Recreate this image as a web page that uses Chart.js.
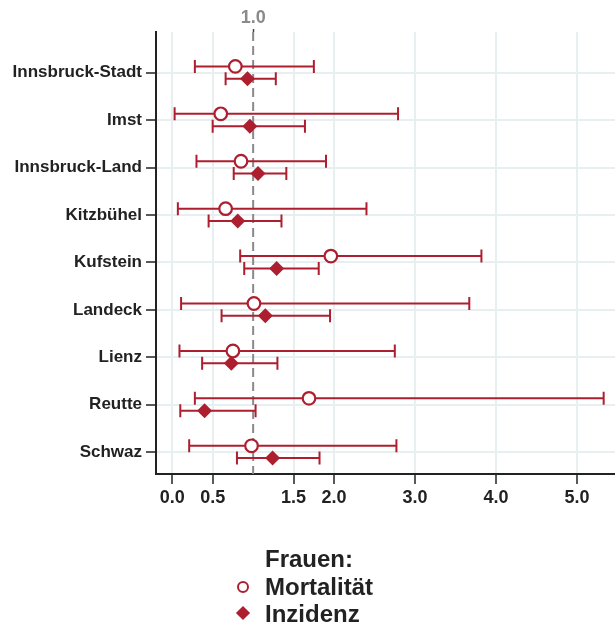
<!DOCTYPE html>
<html>
<head>
<meta charset="utf-8">
<script src="https://cdn.jsdelivr.net/npm/chart.js@4.4.1/dist/chart.umd.min.js"></script>
<style>
  body { margin: 0; background: #fff; }
  #wrap { position: relative; width: 615px; height: 627px; }
  #legend { position: absolute; left: 0; top: 0; width: 615px; height: 627px; pointer-events: none;
    font-family: "Liberation Sans", Arial, sans-serif; font-weight: bold; font-size: 24px; color: #222; }
  #legend .txt { position: absolute; left: 265px; line-height: 27px; white-space: nowrap; }
  #legend .circ { position: absolute; width: 8px; height: 8px; border: 2.5px solid #ad1f2f; border-radius: 50%; }
  #legend .diam { position: absolute; width: 10px; height: 10px; background: #ad1f2f; transform: rotate(45deg); }
</style>
</head>
<body>
<div id="wrap">
  <canvas id="chart" width="615" height="627"></canvas>
  <div id="legend"></div>
</div>
<script>
const categories = ["Innsbruck-Stadt", "Imst", "Innsbruck-Land", "Kitzbühel", "Kufstein", "Landeck", "Lienz", "Reutte", "Schwaz"];

// Mortalität (hollow circles)
const mortValue = [0.78, 0.60, 0.85, 0.66, 1.96, 1.01, 0.75, 1.69, 0.98];
const mortLow   = [0.28, 0.03, 0.30, 0.07, 0.84, 0.11, 0.09, 0.28, 0.21];
const mortHigh  = [1.75, 2.79, 1.90, 2.40, 3.82, 3.67, 2.75, 5.33, 2.77];

// Inzidenz (filled diamonds)
const incValue = [0.93, 0.96, 1.06, 0.81, 1.29, 1.15, 0.73, 0.40, 1.24];
const incLow   = [0.66, 0.50, 0.76, 0.45, 0.89, 0.61, 0.37, 0.10, 0.80];
const incHigh  = [1.28, 1.64, 1.41, 1.35, 1.81, 1.95, 1.30, 1.03, 1.82];

const xTicks = [0, 0.5, 1.5, 2, 3, 4, 5];
const refLine = 1.0;
const legendTitle = "Frauen:";
const seriesLabels = ["Mortalität", "Inzidenz"];

const red = "#ad1f2f";
const gridColor = "#e8eff1";
const axisColor = "#222";
const fontFamily = "'Liberation Sans', Arial, sans-serif";

const mortOffset = -0.135;
const incOffset = 0.125;

const series = [
  { value: mortValue, low: mortLow, high: mortHigh, offset: mortOffset },
  { value: incValue, low: incLow, high: incHigh, offset: incOffset },
];

// reference line + error bars, drawn under the markers
const errorBars = {
  id: "errorBars",
  beforeDatasetsDraw(chart) {
    const { ctx, chartArea, scales } = chart;
    const x = scales.x, y = scales.y;
    ctx.save();

    const rx = x.getPixelForValue(refLine);
    ctx.strokeStyle = "#8a8a8a";
    ctx.lineWidth = 2;
    ctx.setLineDash([9, 5]);
    ctx.beginPath();
    ctx.moveTo(rx, chartArea.top);
    ctx.lineTo(rx, chartArea.bottom);
    ctx.stroke();
    ctx.setLineDash([]);

    ctx.strokeStyle = red;
    ctx.lineWidth = 2;
    series.forEach((s) => {
      categories.forEach((c, i) => {
        const py = y.getPixelForValue(i + 1 + s.offset);
        const x1 = x.getPixelForValue(s.low[i]);
        const x2 = x.getPixelForValue(s.high[i]);
        ctx.beginPath();
        ctx.moveTo(x1, py);
        ctx.lineTo(x2, py);
        ctx.moveTo(x1, py - 6.5);
        ctx.lineTo(x1, py + 6.5);
        ctx.moveTo(x2, py - 6.5);
        ctx.lineTo(x2, py + 6.5);
        ctx.stroke();
      });
    });
    ctx.restore();
  },
};

new Chart(document.getElementById("chart").getContext("2d"), {
  type: "scatter",
  data: {
    datasets: [
      {
        label: seriesLabels[0],
        data: mortValue.map((v, i) => ({ x: v, y: i + 1 + mortOffset })),
        pointStyle: "circle",
        pointRadius: 6.3,
        pointBorderWidth: 2.2,
        pointBackgroundColor: "#fff",
        pointBorderColor: red,
      },
      {
        label: seriesLabels[1],
        data: incValue.map((v, i) => ({ x: v, y: i + 1 + incOffset })),
        pointStyle: "rectRot",
        pointRadius: 7.5,
        pointBorderWidth: 0,
        pointBackgroundColor: red,
        pointBorderColor: red,
      },
    ],
  },
  options: {
    responsive: false,
    animation: false,
    layout: { autoPadding: false, padding: { left: 0, right: 0, top: 0, bottom: 113 } },
    plugins: { legend: { display: false }, tooltip: { enabled: false } },
    scales: {
      x: {
        type: "linear",
        position: "bottom",
        min: -0.2,
        max: 5.47,
        afterBuildTicks: (scale) => { scale.ticks = xTicks.map((v) => ({ value: v })); },
        afterFit: (scale) => { scale.height = 40; },
        ticks: {
          autoSkip: false,
          maxRotation: 0,
          padding: 3,
          color: axisColor,
          font: { family: fontFamily, size: 18, weight: "bold" },
          callback: (v) => Number(v).toFixed(1),
        },
        grid: { color: gridColor, lineWidth: 2, tickColor: axisColor, tickLength: 10, tickWidth: 1.5 },
        border: { color: axisColor, width: 2 },
      },
      x2: {
        type: "linear",
        position: "top",
        min: -0.2,
        max: 5.47,
        afterBuildTicks: (scale) => { scale.ticks = [{ value: refLine }]; },
        afterFit: (scale) => { scale.height = 32; },
        ticks: {
          autoSkip: false,
          maxRotation: 0,
          padding: 0,
          color: "#8a8a8a",
          font: { family: fontFamily, size: 18, weight: "bold" },
          callback: (v) => Number(v).toFixed(1),
        },
        grid: { drawOnChartArea: false, tickColor: "#444", tickLength: 3, tickWidth: 1.5 },
        border: { display: false },
      },
      y: {
        type: "linear",
        reverse: true,
        min: 0.14,
        max: 9.46,
        afterBuildTicks: (scale) => { scale.ticks = categories.map((c, i) => ({ value: i + 1 })); },
        afterFit: (scale) => { scale.width = 156; },
        ticks: {
          autoSkip: false,
          padding: 4,
          color: axisColor,
          font: { family: fontFamily, size: 17, weight: "bold" },
          callback: (v) => categories[v - 1],
        },
        grid: { color: gridColor, lineWidth: 2, tickColor: axisColor, tickLength: 10, tickWidth: 1.5 },
        border: { color: axisColor, width: 2 },
      },
    },
  },
  plugins: [errorBars],
});

// legend below the plot
const legend = document.getElementById("legend");
const lines = [legendTitle, ...seriesLabels];
lines.forEach((t, i) => {
  const d = document.createElement("div");
  d.className = "txt";
  d.style.top = 545 + i * 27.5 + "px";
  d.textContent = t;
  legend.appendChild(d);
});
const circ = document.createElement("div");
circ.className = "circ";
circ.style.left = "236.5px";
circ.style.top = "580.5px";
legend.appendChild(circ);
const diam = document.createElement("div");
diam.className = "diam";
diam.style.left = "238px";
diam.style.top = "608px";
legend.appendChild(diam);
</script>
</body>
</html>
